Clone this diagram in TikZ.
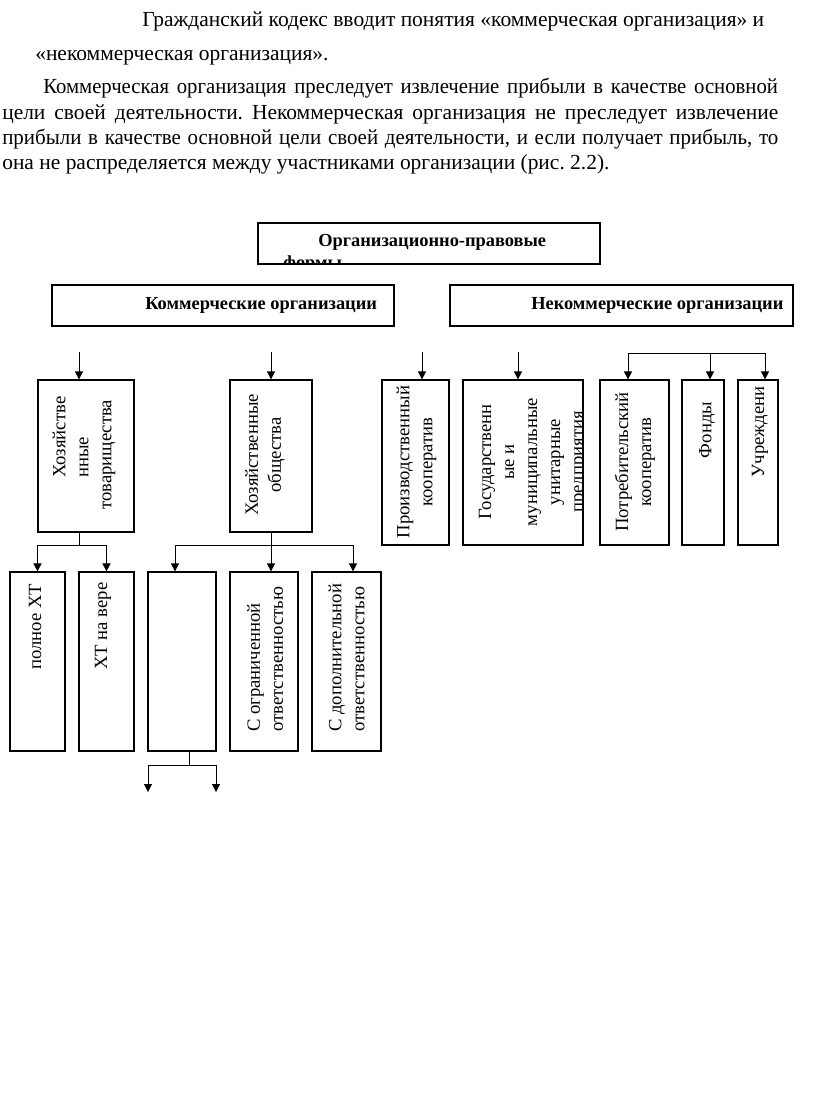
\documentclass[tikz,border=0pt]{standalone}
\usepackage{graphicx}
\usepackage{fontspec}
\setmainfont{Liberation Serif}
\usetikzlibrary{arrows.meta,fit}
\frenchspacing
\tikzset{%
  blk/.style={draw,line width=0.9pt,inner sep=0pt},
  arr/.style={line width=0.6pt,-{Triangle[length=6pt,width=6pt]}},
  conn/.style={line width=0.6pt},
  vtext/.style={rotate=90,inner sep=0pt,font=\fontsize{14}{17.25}\selectfont},
  headtext/.style={inner sep=0pt,anchor=base west,font=\fontsize{13.8}{16}\selectfont\bfseries},
  txtline/.style={inner sep=0pt,anchor=base west,font=\fontsize{16.1}{19}\selectfont}
}

\begin{document}
\begin{tikzpicture}[x=0.75pt,y=-0.75pt]
  \useasboundingbox (0,0) rectangle (816,1109);

  % text above the figure
  \node[txtline] (p1) at (142,27) {Гражданский кодекс вводит понятия «коммерческая организация» и};
  \node[txtline] (p2) at (35,61) {«некоммерческая организация».};
  \node[txtline] (p3) at (43,94) {\scalebox{0.965}[1]{\makebox[571pt][s]{Коммерческая организация преследует извлечение прибыли в качестве основной}}};
  \node[txtline] (p4) at (2,119.5) {\makebox[582pt][s]{цели своей деятельности. Некоммерческая организация не преследует извлечение}};
  \node[txtline] (p5) at (2,145) {\scalebox{0.975}[1]{\makebox[597pt][s]{прибыли в качестве основной цели своей деятельности, и если получает прибыль, то}}};
  \node[txtline] (p6) at (2,170) {она не распределяется между участниками организации (рис. 2.2).};

  % upper levels
  \node[blk, fit={(258,223) (600,264)}] (forms) {};
  \begin{scope}
    \clip (forms.south west) rectangle (forms.north east);
    \node[headtext] at (318,247) {Организационно-правовые};
    \node[headtext] at (283,268) {формы};
  \end{scope}
  \node[blk, fit={(52,285) (394,326)}] (kom) {};
  \node[headtext] at (145,309) {Коммерческие организации};
  \node[blk, fit={(450,285) (793,326)}] (nekom) {};
  \node[headtext] at (531,309) {Некоммерческие организации};

  % second level
  \node[blk, fit={(38,380) (134,532)}] (tov) {};
  \node[vtext, align=left, anchor=west] at (84,510)
    {\hspace*{24pt}Хозяйстве\\\hspace*{24pt}нные\\товарищества};
  \node[blk, fit={(230,380) (312,532)}] (obsh) {};
  \node[vtext, align=center] at (265,455) {Хозяйственные\\общества};
  \node[blk, fit={(382,380) (449,545)}] (proizv) {};
  \node[vtext, align=center] at (416.5,462) {Производственный\\кооператив};
  \node[blk, fit={(463,380) (583,545)}] (gos) {};
  \begin{scope}
    \clip (gos.south west) rectangle (gos.north east);
    \node[vtext, align=center] at (533,462)
      {Государственн\\ые и\\муниципальные\\унитарные\\предприятия};
  \end{scope}
  \node[blk, fit={(600,380) (669,545)}] (potr) {};
  \node[vtext, align=center] at (635,462) {Потребительский\\кооператив};
  \node[blk, fit={(682,380) (724,545)}] (fond) {};
  \node[vtext] at (707,430) {Фонды};
  \node[blk, fit={(738,380) (778,545)}] (uchr) {};
  \node[vtext] at (760,432) {Учреждени};

  % third level
  \node[blk, fit={(10,572) (65,751)}] (poln) {};
  \node[vtext, anchor=west] at (35,670) {полное ХТ};
  \node[blk, fit={(79,572) (134,751)}] (vera) {};
  \node[vtext, anchor=west] at (103,670) {ХТ на вере};
  \node[blk, fit={(148,572) (216,751)}] (pust) {};
  \node[blk, fit={(230,572) (298,751)}] (ogr) {};
  \node[vtext, align=left, anchor=west] at (265,732) {С ограниченной\\ответственностью};
  \node[blk, fit={(312,572) (381,751)}] (dop) {};
  \node[vtext, align=left, anchor=west] at (346.5,732) {С дополнительной\\ответственностью};

  % connectors
  \coordinate (in1) at (79,352);
  \coordinate (in2) at (271,352);
  \coordinate (in3) at (422,352);
  \coordinate (in4) at (518,352);
  \draw[arr] (in1) -- (in1 |- tov.north);
  \draw[arr] (in2) -- (in2 |- obsh.north);
  \draw[arr] (in3) -- (in3 |- proizv.north);
  \draw[arr] (in4) -- (in4 |- gos.north);

  \coordinate (br1) at (628,353);
  \coordinate (br2) at (710,353);
  \coordinate (br3) at (765,353);
  \draw[arr] (br3) -- (br1) -- (br1 |- potr.north);
  \draw[arr] (br2) -- (br2 |- fond.north);
  \draw[arr] (br3) -- (br3 |- uchr.north);

  \coordinate (j1) at (79,545);
  \draw[conn] (j1 |- tov.south) -- (j1);
  \draw[arr] (j1) -| (poln.north);
  \draw[arr] (j1) -| (vera.north);

  \coordinate (j2l) at (175,545);
  \coordinate (j2r) at (353,545);
  \draw[arr] (obsh.south) -- (obsh.south |- ogr.north);
  \draw[arr] (j2r) -- (j2l) -- (j2l |- pust.north);
  \draw[arr] (j2r) -- (j2r |- dop.north);

  \coordinate (j3) at (189,765);
  \coordinate (out1) at (148,792);
  \coordinate (out2) at (216,792);
  \draw[conn] (j3 |- pust.south) -- (j3);
  \draw[arr] (j3) -| (out1);
  \draw[arr] (j3) -| (out2);
\end{tikzpicture}
\end{document}
